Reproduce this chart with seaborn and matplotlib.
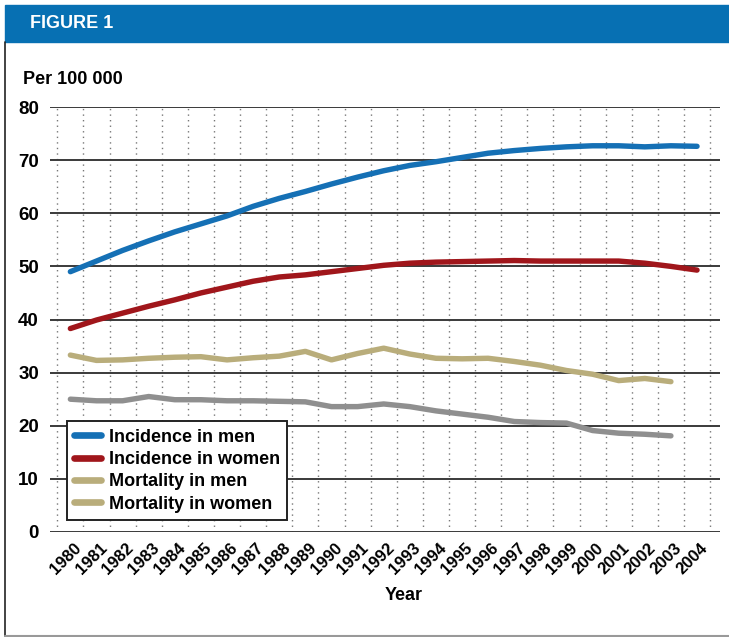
import matplotlib
matplotlib.use("Agg")
import matplotlib.pyplot as plt
import matplotlib.transforms as mtransforms
from matplotlib.lines import Line2D
from matplotlib.patches import Rectangle
import numpy as np
import pandas as pd
import seaborn as sns

# ------------------------------------------------------------------
# data (per 100 000)
# ------------------------------------------------------------------
years = list(range(1980, 2005))
years_mort = list(range(1980, 2004))

incidence_men = [49.0, 51.0, 53.0, 54.8, 56.5, 58.0, 59.5, 61.3, 62.8, 64.1,
                 65.5, 66.8, 68.0, 69.0, 69.7, 70.5, 71.3, 71.8, 72.2, 72.5,
                 72.7, 72.7, 72.5, 72.7, 72.6]
incidence_women = [38.3, 39.9, 41.2, 42.5, 43.7, 45.0, 46.1, 47.2, 48.0, 48.4,
                   49.0, 49.6, 50.2, 50.6, 50.8, 50.9, 51.0, 51.1, 51.0, 51.0,
                   51.0, 51.0, 50.6, 50.0, 49.3]
mortality_men = [33.3, 32.3, 32.4, 32.7, 32.9, 33.0, 32.4, 32.8, 33.1, 34.0,
                 32.4, 33.6, 34.6, 33.5, 32.7, 32.6, 32.7, 32.1, 31.4, 30.4,
                 29.7, 28.5, 28.9, 28.3]
mortality_women = [25.0, 24.7, 24.7, 25.5, 24.9, 24.9, 24.7, 24.7, 24.6, 24.5,
                   23.6, 23.6, 24.1, 23.6, 22.8, 22.2, 21.6, 20.8, 20.6, 20.5,
                   19.1, 18.6, 18.4, 18.1]

series_names = ["Incidence in men", "Incidence in women",
                "Mortality in men", "Mortality in women"]
line_colors = ["#1570b5", "#a0161b", "#b9ad7b", "#8f8f8f"]
# the original legend shows the tan swatch for both mortality series
legend_colors = ["#1570b5", "#a0161b", "#b9ad7b", "#b9ad7b"]
header_blue = "#0770b3"

sns.set_style("white")
plt.rcParams["font.family"] = ["Liberation Sans", "DejaVu Sans"]
plt.rcParams["font.weight"] = "bold"
plt.rcParams["text.color"] = "black"
plt.rcParams["xtick.color"] = "black"
plt.rcParams["ytick.color"] = "black"
plt.rcParams["axes.labelcolor"] = "black"

df = pd.concat([
    pd.DataFrame({"year": years, "value": incidence_men, "series": series_names[0]}),
    pd.DataFrame({"year": years, "value": incidence_women, "series": series_names[1]}),
    pd.DataFrame({"year": years_mort, "value": mortality_men, "series": series_names[2]}),
    pd.DataFrame({"year": years_mort, "value": mortality_women, "series": series_names[3]}),
], ignore_index=True)

W, H = 729, 637
fig = plt.figure(figsize=(W / 100, H / 100), dpi=100)

# header bar + frame lines
fig.patches.append(Rectangle((5 / W, 1 - 42 / H), 1 - 5 / W, 37 / H,
                             transform=fig.transFigure, color=header_blue, zorder=0))
fig.lines.append(Line2D([5 / W, 5 / W], [1 - 636 / H, 1 - 42 / H],
                        transform=fig.transFigure, color="#222222", lw=1.2))
fig.lines.append(Line2D([5 / W, 1], [1 - 636 / H, 1 - 636 / H],
                        transform=fig.transFigure, color="#999999", lw=1.5))
fig.text(30 / W, 1 - 24 / H, "FIGURE 1", color="white", fontsize=13,
         fontweight="bold", va="center", ha="left")
fig.text(23 / W, 1 - 79 / H, "Per 100 000", color="black", fontsize=13,
         fontweight="bold", va="center", ha="left")

ax = fig.add_axes([50 / W, 1 - 532 / H, 670 / W, 425 / H])
sns.lineplot(data=df, x="year", y="value", hue="series", hue_order=series_names,
             palette=line_colors, linewidth=3.9, legend=False, ax=ax,
             solid_capstyle="round", zorder=3)

ax.set_xlim(1979.22, 2004.88)
ax.set_ylim(0, 80)
ax.set_yticks(np.arange(0, 81, 10))
ax.set_xticks(years)
ax.set_xticks(np.arange(1979.5, 2005, 1.0), minor=True)
for s in ax.spines.values():
    s.set_visible(False)
ax.tick_params(axis="both", which="both", length=0)
ax.tick_params(axis="y", pad=8, labelsize=13.5)
ax.tick_params(axis="x", pad=2, labelsize=12)

ax.set_axisbelow(True)
ax.grid(axis="y", which="major", color="#3a3a3a", linewidth=1.4)
ax.grid(axis="x", which="major", visible=False)
ax.grid(axis="x", which="minor", color="#777777", linewidth=1.0,
        linestyle=(0, (1, 3)))

offset = mtransforms.ScaledTranslation(3 / 100, -6 / 100, fig.dpi_scale_trans)
for lab in ax.get_xticklabels():
    lab.set_rotation(45)
    lab.set_ha("right")
    lab.set_va("top")
    lab.set_rotation_mode("anchor")
    lab.set_transform(lab.get_transform() + offset)

ax.set_xlabel("Year", fontsize=13, fontweight="bold")
ax.set_ylabel("")
ax.xaxis.set_label_coords((404 - 50) / 670, -(595 - 532) / 425)
ax.xaxis.label.set_va("center")

handles = [Line2D([0], [0], color=c, lw=4.8, solid_capstyle="round")
           for c in legend_colors]
leg = ax.legend(handles, series_names, loc="lower left",
                bbox_to_anchor=((67 - 50) / 670, (532 - 520) / 425),
                borderaxespad=0, frameon=True, fancybox=False, framealpha=1,
                edgecolor="#222222", prop={"size": 13, "weight": "bold"},
                handlelength=1.5, handletextpad=0.4, labelspacing=0.3,
                borderpad=0.4)
leg.get_frame().set_linewidth(1.4)

fig.savefig("out.png", dpi=100)
